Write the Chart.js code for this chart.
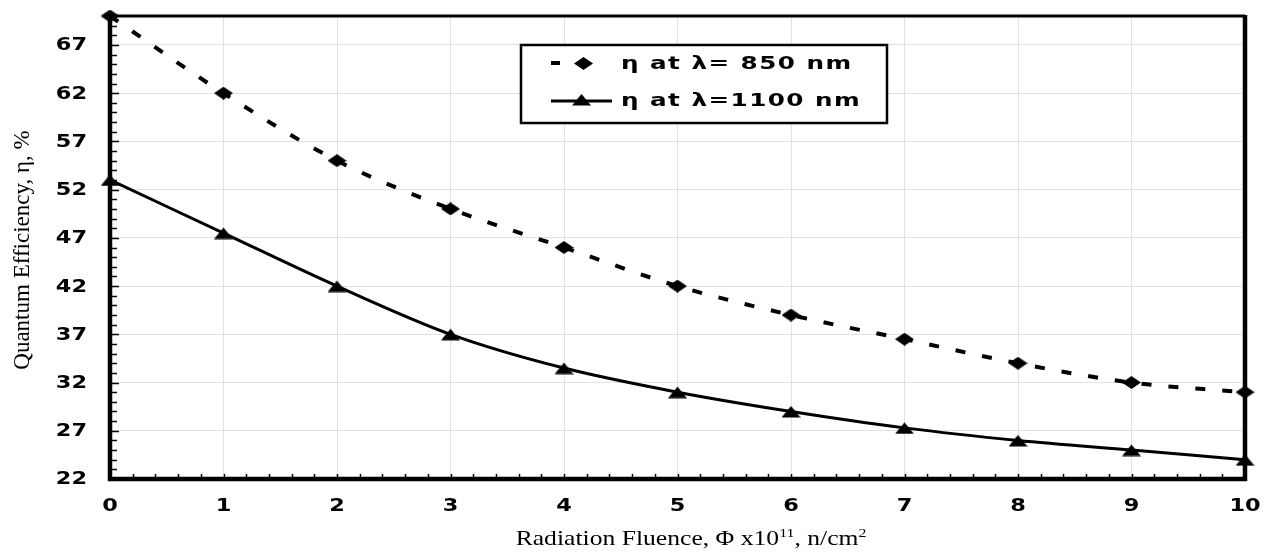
<!DOCTYPE html>
<html>
<head>
<meta charset="utf-8">
<script src="https://cdn.jsdelivr.net/npm/chart.js@4"></script>
<style>
  html, body { margin: 0; padding: 0; background: #fff; }
  #wrap { width: 1265px; height: 558px; position: relative; }
</style>
</head>
<body>
<div id="wrap"><canvas id="graph01"></canvas></div>
<script>
const fluence = [0, 1, 2, 3, 4, 5, 6, 7, 8, 9, 10];
const eta850 = [70, 62, 55, 50, 46, 42, 39, 36.5, 34, 32, 31];
const eta1100 = [53, 47.5, 42, 37, 33.5, 31, 29, 27.3, 26, 25, 24];
const yTicks = [22, 27, 32, 37, 42, 47, 52, 57, 62, 67];
const xTicks = [0, 1, 2, 3, 4, 5, 6, 7, 8, 9, 10];
const seriesNames = ['η at λ= 850 nm', 'η at λ=1100 nm'];
const yTitle = 'Quantum Efficiency, η, %';

const BOLD = 'bold 17px DejaVu Sans, sans-serif';
const SERIF = 'Liberation Serif, Times New Roman, serif';

// flattened markers, like the stretched original
function marker(kind) {
    const c = document.createElement('canvas');
    c.width = 19;
    c.height = 13;
    const g = c.getContext('2d');
    g.fillStyle = '#000';
    g.beginPath();
    if (kind === 'diamond') {
        g.moveTo(9.5, 0); g.lineTo(19, 6.5); g.lineTo(9.5, 13); g.lineTo(0, 6.5);
    } else {
        g.moveTo(9.5, 1); g.lineTo(19, 12.5); g.lineTo(0, 12.5);
    }
    g.closePath();
    g.fill();
    return c;
}
const diamondMark = marker('diamond');
const triangleMark = marker('triangle');

function wideText(ctx, text, x, y, sx, align) {
    const w = ctx.measureText(text).width * sx;
    let left = x;
    if (align === 'right') left = x - w;
    if (align === 'center') left = x - w / 2;
    ctx.save();
    ctx.translate(left, y);
    ctx.scale(sx, 1);
    ctx.textAlign = 'left';
    ctx.fillText(text, 0, 0);
    ctx.restore();
}

const framePlugin = {
    id: 'frame',
    afterDraw(chart) {
        const ctx = chart.ctx;
        const a = chart.chartArea;
        const xs = chart.scales.x;
        const ys = chart.scales.y;
        ctx.save();
        ctx.strokeStyle = '#000';
        ctx.fillStyle = '#000';
        ctx.lineWidth = 1.5;
        // minor ticks pointing inward
        for (let v = 23; v < 70; v++) {
            const py = Math.round(ys.getPixelForValue(v)) + 0.5;
            ctx.beginPath();
            ctx.moveTo(a.left, py);
            ctx.lineTo(a.left + ((v - 22) % 5 === 0 ? 9 : 7), py);
            ctx.stroke();
        }
        for (let i = 1; i < 50; i++) {
            const px = Math.round(xs.getPixelForValue(i * 0.2)) + 0.5;
            ctx.beginPath();
            ctx.moveTo(px, a.bottom);
            ctx.lineTo(px, a.bottom - 5);
            ctx.stroke();
        }
        // frame
        ctx.lineWidth = 3;
        ctx.beginPath();
        ctx.moveTo(a.left, a.top);
        ctx.lineTo(a.right, a.top);
        ctx.stroke();
        ctx.lineWidth = 4.5;
        ctx.beginPath();
        ctx.moveTo(a.left, a.top - 1);
        ctx.lineTo(a.left, a.bottom);
        ctx.lineTo(a.right, a.bottom);
        ctx.lineTo(a.right, a.top - 1);
        ctx.stroke();

        // tick labels at the scale's tick positions
        ctx.font = BOLD;
        ctx.textBaseline = 'middle';
        ys.ticks.forEach(t => {
            wideText(ctx, String(t.value), 87, ys.getPixelForValue(t.value) + 1, 1.32, 'right');
        });
        xs.ticks.forEach(t => {
            wideText(ctx, String(t.value), xs.getPixelForValue(t.value), 507, 1.32, 'center');
        });

        // axis titles
        ctx.textBaseline = 'alphabetic';
        ctx.save();
        ctx.translate(29, 250);
        ctx.rotate(-Math.PI / 2);
        ctx.textAlign = 'center';
        ctx.font = '23px ' + SERIF;
        ctx.fillText(yTitle, 0, 0);
        ctx.restore();

        const parts = [
            ['Radiation Fluence, Φ x10', 21, 0],
            ['11', 13, -8],
            [', n/cm', 21, 0],
            ['2', 13, -8]
        ];
        const sx = 1.22;
        let total = 0;
        parts.forEach(p => { ctx.font = p[1] + 'px ' + SERIF; total += ctx.measureText(p[0]).width * sx; });
        let tx = 691 - total / 2;
        parts.forEach(p => {
            ctx.font = p[1] + 'px ' + SERIF;
            wideText(ctx, p[0], tx, 545 + p[2], sx, 'left');
            tx += ctx.measureText(p[0]).width * sx;
        });

        // legend box
        const bx = 521, by = 45, bw = 366, bh = 78;
        ctx.fillStyle = '#fff';
        ctx.fillRect(bx, by, bw, bh);
        ctx.lineWidth = 2.5;
        ctx.strokeRect(bx, by, bw, bh);
        ctx.fillStyle = '#000';
        ctx.lineWidth = 4;
        ctx.beginPath();
        ctx.moveTo(551, 63);
        ctx.lineTo(560, 63);
        ctx.stroke();
        ctx.drawImage(diamondMark, 574, 57);
        ctx.lineWidth = 3;
        ctx.beginPath();
        ctx.moveTo(551, 101);
        ctx.lineTo(612, 101);
        ctx.stroke();
        ctx.drawImage(triangleMark, 572, 93);
        ctx.font = BOLD;
        ctx.letterSpacing = '1px';
        ctx.textBaseline = 'middle';
        wideText(ctx, seriesNames[0], 621, 65, 1.45, 'left');
        wideText(ctx, seriesNames[1], 621, 102, 1.45, 'left');
        ctx.restore();
    }
};

function noPad(s) {
    s.paddingTop = 0;
    s.paddingBottom = 0;
    s.paddingLeft = 0;
    s.paddingRight = 0;
}

new Chart(document.getElementById('graph01'), {
    type: 'line',
    data: {
        labels: fluence,
        datasets: [
            {
                label: seriesNames[0],
                data: fluence.map((x, i) => ({ x: x, y: eta850[i] })),
                borderColor: '#000',
                backgroundColor: '#000',
                borderWidth: 4,
                borderDash: [10, 17],
                pointStyle: diamondMark,
                tension: 0.4,
                cubicInterpolationMode: 'monotone',
                clip: false
            },
            {
                label: seriesNames[1],
                data: fluence.map((x, i) => ({ x: x, y: eta1100[i] })),
                borderColor: '#000',
                backgroundColor: '#000',
                borderWidth: 3,
                pointStyle: triangleMark,
                tension: 0.4,
                cubicInterpolationMode: 'monotone',
                clip: false
            }
        ]
    },
    options: {
        responsive: true,
        maintainAspectRatio: false,
        animation: false,
        layout: { padding: { left: 0, right: 20, top: 16, bottom: 0 } },
        plugins: {
            legend: { display: false },
            tooltip: { enabled: false }
        },
        scales: {
            x: {
                type: 'linear',
                min: 0,
                max: 10,
                afterBuildTicks: s => { s.ticks = xTicks.map(v => ({ value: v })); },
                afterFit: s => { s.height = 79; noPad(s); },
                grid: { color: '#e2e2e2', lineWidth: 1, drawTicks: false },
                border: { display: false },
                ticks: { display: false }
            },
            y: {
                type: 'linear',
                min: 22,
                max: 70,
                afterBuildTicks: s => { s.ticks = yTicks.map(v => ({ value: v })); },
                afterFit: s => { s.width = 110; noPad(s); },
                grid: { color: '#e2e2e2', lineWidth: 1, drawTicks: false },
                border: { display: false },
                ticks: { display: false }
            }
        }
    },
    plugins: [framePlugin]
});
</script>
</body>
</html>
